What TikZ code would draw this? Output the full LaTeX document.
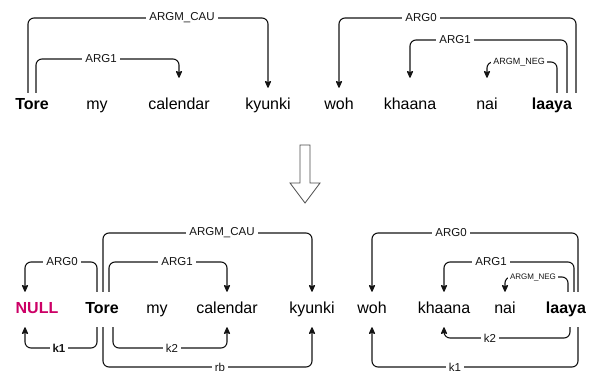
\documentclass[tikz,border=0pt]{standalone}
\usepackage{fontspec}
\setmainfont{Liberation Sans}
\usetikzlibrary{arrows.meta}
\definecolor{nullc}{HTML}{CC0066}
\definecolor{linec}{HTML}{141414}
\begin{document}
\begin{tikzpicture}[x=1pt,y=-1pt,
  word/.style={font=\fontsize{16}{16}\selectfont, text height=11.5pt, text depth=3.5pt, inner xsep=0pt, inner ysep=5pt},
  bword/.style={word, font=\fontsize{16}{16}\selectfont\bfseries},
  word2/.style={word, inner ysep=10pt},
  bword2/.style={bword, inner ysep=10pt},
  rel/.style={draw=linec, line width=1.1pt, rounded corners=6pt, -{Stealth[length=8pt,width=7pt,inset=1.5pt,round]}},
  lab/.style={fill=white, inner xsep=3pt, inner ysep=1pt, text=linec, font=\fontsize{11.5}{11.5}\selectfont},
  slab/.style={lab, inner xsep=2pt, font=\fontsize{9}{9}\selectfont},
  sslab/.style={lab, inner xsep=2pt, font=\fontsize{8}{8}\selectfont},
  hollow/.style={draw=black!70, line width=0.8pt, fill=white, line join=miter}]
\useasboundingbox (0,0) rectangle (592,370);
% ---------- top sentence ----------
\node[bword] (t1) at (32,105.5) {Tore};
\node[word] (t2) at (97,105.5) {my};
\node[word] (t3) at (179,105.5) {calendar};
\node[word] (t4) at (268,105.5) {kyunki};
\node[word] (t5) at (339,105.5) {woh};
\node[word] (t6) at (410,105.5) {khaana};
\node[word] (t7) at (487,105.5) {nai};
\node[bword] (t8) at (552,105.5) {laaya};
% connectors
\draw[rel] (t1.north -| 28,0) |- (t4.north |- 0,18) -- ([yshift=5pt]t4.north);
\node[lab] (l1) at (182,18) {ARGM\_CAU};
\draw[rel] (t1.north -| 36,0) |- (t3.north |- 0,59) -- ([yshift=15pt]t3.north);
\node[lab] (l2) at (101,59) {ARG1};
\draw[rel] (t8.north -| 576,0) |- (t5.north |- 0,18) -- ([yshift=5pt]t5.north);
\node[lab] (l3) at (421,18) {ARG0};
\draw[rel] (t8.north -| 567,0) |- (t6.north |- 0,40) -- ([yshift=15pt]t6.north);
\node[lab] (l4) at (455,40) {ARG1};
\draw[rel] (t8.north -| 557,0) |- (t7.north |- 0,62) -- ([yshift=15pt]t7.north);
\node[slab] (l5) at (519,62) {ARGM\_NEG};
% ---------- transformation arrow ----------
\draw[hollow] (300,145) -- (310,145) -- (310,183) -- (320,183) -- (305,203) -- (290,183) -- (300,183) -- cycle;
% ---------- bottom sentence ----------
\node[word2, text=nullc, font=\fontsize{16}{16}\selectfont\bfseries] (b0) at (37,309.5) {NULL};
\node[bword2] (b1) at (102,309.5) {Tore};
\node[word2] (b2) at (157,309.5) {my};
\node[word2] (b3) at (227,309.5) {calendar};
\node[word2] (b4) at (312,309.5) {kyunki};
\node[word2] (b5) at (372,309.5) {woh};
\node[word2] (b6) at (444,309.5) {khaana};
\node[word2] (b7) at (505,309.5) {nai};
\node[bword2] (b8) at (566,309.5) {laaya};
% upper arcs left
\draw[rel] (b1.north -| 97,0) |- (25,262) -- (b0.north -| 25,0);
\node[lab] (m1) at (62,262) {ARG0};
\draw[rel] (b1.north -| 103,0) |- (b4.north |- 0,233) -- (b4.north);
\node[lab] (m2) at (222,233) {ARGM\_CAU};
\draw[rel] (b1.north -| 109,0) |- (b3.north |- 0,262) -- (b3.north);
\node[lab] (m3) at (177,262) {ARG1};
% lower arcs left
\draw[rel] (b1.south -| 97,0) |- (25,348) -- (b0.south -| 25,0);
\node[lab, font=\fontsize{11.5}{11.5}\selectfont\bfseries] (m4) at (59,348) {k1};
\draw[rel] (b1.south -| 113,0) |- (b3.south |- 0,348) -- (b3.south);
\node[lab] (m5) at (172,348) {k2};
\draw[rel] (b1.south -| 103,0) |- (b4.south |- 0,367) -- (b4.south);
\node[lab] (m6) at (220,367) {rb};
% upper arcs right
\draw[rel] (b8.north -| 578,0) |- (b5.north |- 0,233) -- (b5.north);
\node[lab] (m7) at (451,233) {ARG0};
\draw[rel] (b8.north -| 574,0) |- (b6.north |- 0,262) -- (b6.north);
\node[lab] (m8) at (491,262) {ARG1};
\draw[rel] (b8.north -| 568,0) |- (b7.north |- 0,277) -- (b7.north);
\node[sslab] (m9) at (533,277) {ARGM\_NEG};
% lower arcs right
\draw[rel] (b8.south -| 570,0) |- (b6.south |- 0,338) -- (b6.south);
\node[lab] (m10) at (490,338) {k2};
\draw[rel] (b8.south -| 578,0) |- (b5.south |- 0,367) -- (b5.south);
\node[lab] (m11) at (455,367) {k1};
\end{tikzpicture}
\end{document}
